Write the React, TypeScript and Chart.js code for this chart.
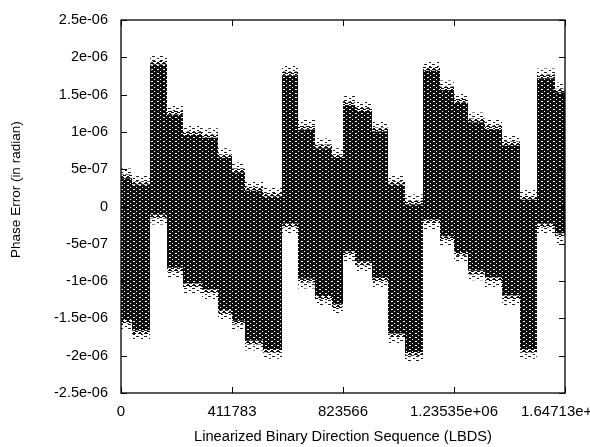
import React, { useEffect, useRef } from "react";
import { Chart, registerables } from "chart.js";

Chart.register(...registerables);

// Segment start positions along the LBDS axis
const segmentStarts = [
  0, 41000, 107600, 170600, 230000, 300500, 359800, 411783, 460000, 526800,
  597300, 656600, 719700, 782800, 823566, 868100, 931100, 990500, 1053600,
  1120300, 1183400, 1235350, 1287300, 1350300, 1413400, 1480200, 1543300,
  1610000,
];
const sequenceEnd = 1647132;

// Upper and lower envelope of the phase error band (radian) per segment
const upperEnvelope = [
  3.8e-7, 2.9e-7, 1.9e-6, 1.23e-6, 9.6e-7, 9.2e-7, 6.5e-7, 4.6e-7, 2.1e-7,
  1.3e-7, 1.76e-6, 1.03e-6, 7.8e-7, 6.5e-7, 1.36e-6, 1.28e-6, 1.01e-6, 2.9e-7,
  3e-8, 1.82e-6, 1.56e-6, 1.39e-6, 1.13e-6, 1.04e-6, 8.2e-7, 9e-8, 1.72e-6,
  1.53e-6,
];
const lowerEnvelope = [
  -1.52e-6, -1.66e-6, -1.1e-7, -8.2e-7, -1.03e-6, -1.11e-6, -1.39e-6,
  -1.53e-6, -1.8e-6, -1.91e-6, -2.3e-7, -9.7e-7, -1.2e-6, -1.31e-6, -6.0e-7,
  -7.4e-7, -9.6e-7, -1.7e-6, -1.95e-6, -1.7e-7, -4.0e-7, -6.1e-7, -8.6e-7,
  -9.5e-7, -1.19e-6, -1.91e-6, -2.3e-7, -3.6e-7,
];

const xTickValues = [0, 411783, 823566, 1235349, 1647132];
const xTickLabels = ["0", "411783", "823566", "1.23535e+06", "1.64713e+06"];
const yTickValues = [
  -2.5e-6, -2e-6, -1.5e-6, -1e-6, -5e-7, 0, 5e-7, 1e-6, 1.5e-6, 2e-6, 2.5e-6,
];
const yTickLabels = [
  "-2.5e-06", "-2e-06", "-1.5e-06", "-1e-06", "-5e-07", "0", "5e-07", "1e-06",
  "1.5e-06", "2e-06", "2.5e-06",
];

// style constants
const FRINGE_INNER = 5e-8;
const FRINGE_OUTER = 1.3e-7;
const FONT = '"Liberation Sans", Arial, Helvetica, sans-serif';

function makePattern(
  w: number,
  h: number,
  bg: string | null,
  cells: Array<[number, number, number]>,
  color: string
): CanvasPattern | string {
  const c = document.createElement("canvas");
  c.width = w;
  c.height = h;
  const g = c.getContext("2d")!;
  if (bg) {
    g.fillStyle = bg;
    g.fillRect(0, 0, w, h);
  }
  g.fillStyle = color;
  for (const [x, y, len] of cells) g.fillRect(x, y, len, 1);
  const p = g.createPattern(c, "repeat");
  return p || color;
}

function series(values: number[], offset: number) {
  const pts = segmentStarts.map((x, i) => ({ x, y: values[i] + offset }));
  pts.push({ x: sequenceEnd, y: values[values.length - 1] + offset });
  return pts;
}

export default function App() {
  const ref = useRef<HTMLCanvasElement>(null);

  useEffect(() => {
    if (!ref.current) return;
    const dense = makePattern(
      6,
      4,
      "#0e0e0e",
      [
        [1, 1, 2],
        [4, 3, 1],
      ],
      "#ffffff"
    );
    const inner = makePattern(
      6,
      3,
      null,
      [
        [0, 0, 4],
        [3, 1, 3],
        [1, 2, 2],
      ],
      "#111111"
    );
    const outer = makePattern(
      8,
      4,
      null,
      [
        [0, 0, 3],
        [5, 2, 2],
      ],
      "#222222"
    );

    const common = {
      stepped: true as const,
      pointRadius: 0,
      borderWidth: 0,
      borderColor: "rgba(0,0,0,0)",
    };

    const frame = {
      id: "frame",
      afterDatasetsDraw(chart: any) {
        const { ctx, chartArea: a, scales } = chart;
        ctx.save();
        ctx.strokeStyle = "#000";
        ctx.lineWidth = 1.3;
        ctx.strokeRect(a.left, a.top, a.right - a.left, a.bottom - a.top);
        const tl = 6;
        ctx.lineWidth = 1;
        ctx.beginPath();
        for (const t of scales.y.ticks) {
          const py = Math.round(scales.y.getPixelForValue(t.value)) + 0.5;
          ctx.moveTo(a.left, py);
          ctx.lineTo(a.left + tl, py);
          ctx.moveTo(a.right, py);
          ctx.lineTo(a.right - tl, py);
        }
        for (const t of scales.x.ticks) {
          const px = Math.round(scales.x.getPixelForValue(t.value)) + 0.5;
          ctx.moveTo(px, a.bottom);
          ctx.lineTo(px, a.bottom - tl);
          ctx.moveTo(px, a.top);
          ctx.lineTo(px, a.top + tl);
        }
        ctx.stroke();
        ctx.restore();
      },
    };

    const chart = new Chart(ref.current, {
      type: "line",
      data: {
        datasets: [
          { ...common, data: series(upperEnvelope, FRINGE_OUTER), fill: "+1", backgroundColor: outer },
          { ...common, data: series(upperEnvelope, FRINGE_INNER), fill: "+1", backgroundColor: inner },
          { ...common, data: series(upperEnvelope, 0), fill: "+1", backgroundColor: dense },
          { ...common, data: series(lowerEnvelope, 0), fill: "+1", backgroundColor: inner },
          { ...common, data: series(lowerEnvelope, -FRINGE_INNER), fill: "+1", backgroundColor: outer },
          { ...common, data: series(lowerEnvelope, -FRINGE_OUTER), fill: false },
        ],
      },
      options: {
        responsive: false,
        animation: false,
        events: [],
        layout: { padding: { top: 20, right: 25, left: 0, bottom: 0 } },
        plugins: {
          legend: { display: false },
          tooltip: { enabled: false },
        },
        scales: {
          x: {
            type: "linear",
            min: 0,
            max: sequenceEnd,
            grid: { display: false, drawTicks: false },
            border: { display: false },
            afterBuildTicks: (s: any) => {
              s.ticks = xTickValues.map((v) => ({ value: v }));
            },
            afterFit: (s: any) => {
              s.height = 54;
              s.paddingLeft = 0;
              s.paddingRight = 0;
            },
            ticks: {
              autoSkip: false,
              maxRotation: 0,
              padding: 10,
              color: "#000",
              font: { family: FONT, size: 15 },
              callback: (_v: any, i: number) => xTickLabels[i],
            },
            title: {
              display: true,
              text: "Linearized Binary Direction Sequence (LBDS)",
              color: "#000",
              font: { family: FONT, size: 14.7 },
              padding: { top: 0, bottom: 1 },
            },
          },
          y: {
            type: "linear",
            min: -2.5e-6,
            max: 2.5e-6,
            grid: { display: false, drawTicks: false },
            border: { display: false },
            afterBuildTicks: (s: any) => {
              s.ticks = yTickValues.map((v) => ({ value: v }));
            },
            afterFit: (s: any) => {
              s.width = 121;
              s.paddingTop = 0;
              s.paddingBottom = 0;
            },
            ticks: {
              autoSkip: false,
              padding: 13,
              color: "#000",
              font: { family: FONT, size: 14.5 },
              callback: (_v: any, i: number) => yTickLabels[i],
            },
            title: {
              display: true,
              text: "         Phase Error (in radian)",
              color: "#000",
              font: { family: FONT, size: 13.5 },
              padding: { top: 8, bottom: 0 },
            },
          },
        },
      },
      plugins: [frame],
    });
    return () => chart.destroy();
  }, []);

  return (
    <div style={{ position: "fixed", left: 0, top: 0, width: 590, height: 447, background: "#fff" }}>
      <canvas ref={ref} width={590} height={447} style={{ display: "block" }} />
    </div>
  );
}
